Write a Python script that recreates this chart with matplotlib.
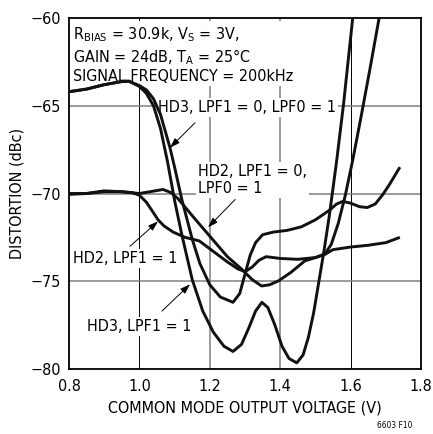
import matplotlib
matplotlib.use("Agg")
import matplotlib.pyplot as plt

plt.rcParams['font.family'] = ['DejaVu Sans Condensed', 'Liberation Sans Narrow', 'DejaVu Sans']
plt.rcParams['font.stretch'] = 'condensed'
plt.rcParams['mathtext.fontset'] = 'custom'
plt.rcParams['mathtext.rm'] = 'DejaVu Sans Condensed'
plt.rcParams['axes.unicode_minus'] = True

# HD3, LPF1 = 1
hd3_lpf1_x = [0.80, 0.85, 0.90, 0.95, 0.97, 1.00, 1.02, 1.04, 1.06, 1.08, 1.10, 1.12, 1.15,
              1.18, 1.21, 1.24, 1.266, 1.29, 1.31, 1.33, 1.348, 1.365, 1.385, 1.405, 1.425,
              1.447, 1.465, 1.48, 1.495, 1.51, 1.525, 1.54, 1.56, 1.58, 1.606]
hd3_lpf1_y = [-64.2, -64.05, -63.8, -63.62, -63.6, -63.9, -64.3, -65.0, -66.3, -68.2, -70.4, -72.3, -74.9,
              -76.7, -77.9, -78.7, -79.0, -78.6, -77.7, -76.7, -76.2, -76.5, -77.5, -78.7, -79.4,
              -79.65, -79.2, -78.2, -76.8, -75.0, -73.2, -71.2, -68.2, -64.9, -60.0]

# HD3, LPF1 = 0, LPF0 = 1
hd3_lpf0_x = [0.80, 0.85, 0.90, 0.95, 0.97, 1.00, 1.02, 1.04, 1.06, 1.087, 1.10, 1.12, 1.15, 1.172,
              1.20, 1.23, 1.266, 1.285, 1.30, 1.315, 1.33, 1.35, 1.38, 1.42, 1.46, 1.50, 1.54,
              1.56, 1.578, 1.60, 1.625, 1.647, 1.67, 1.69, 1.71, 1.74]
hd3_lpf0_y = [-64.2, -64.05, -63.8, -63.62, -63.6, -63.85, -64.1, -64.6, -65.5, -67.4, -68.5, -70.3, -72.6, -74.0,
              -75.2, -75.9, -76.2, -75.7, -74.6, -73.5, -72.8, -72.35, -72.2, -72.1, -71.9, -71.5, -70.95,
              -70.6, -70.45, -70.55, -70.75, -70.8, -70.6, -70.1, -69.5, -68.5]

# HD2, LPF1 = 0, LPF0 = 1
hd2_lpf0_x = [0.80, 0.85, 0.90, 0.95, 1.00, 1.03, 1.067, 1.09, 1.11, 1.135, 1.16, 1.19, 1.22, 1.25,
              1.29, 1.32, 1.347, 1.37, 1.395, 1.43, 1.47, 1.50, 1.527, 1.545, 1.565, 1.585, 1.606,
              1.63, 1.655, 1.681]
hd2_lpf0_y = [-70.05, -70.0, -69.85, -69.9, -70.0, -69.9, -69.77, -69.95, -70.3, -70.9, -71.5, -72.2, -72.9, -73.6,
              -74.3, -74.9, -75.27, -75.2, -74.98, -74.5, -73.84, -73.65, -73.45, -72.9, -71.7, -70.1, -68.1,
              -65.6, -62.9, -60.0]

# HD2, LPF1 = 1
hd2_lpf1_x = [0.80, 0.85, 0.90, 0.95, 0.98, 1.00, 1.02, 1.04, 1.053, 1.07, 1.096, 1.13, 1.17, 1.21,
              1.25, 1.28, 1.30, 1.32, 1.34, 1.36, 1.40, 1.45, 1.50, 1.527, 1.55, 1.60, 1.65, 1.70, 1.74]
hd2_lpf1_y = [-70.0, -70.0, -69.9, -69.9, -69.95, -70.1, -70.5, -71.1, -71.5, -71.85, -72.2, -72.5, -72.7, -73.3,
              -73.9, -74.3, -74.45, -74.2, -73.8, -73.6, -73.7, -73.75, -73.65, -73.47, -73.2, -73.05, -72.95, -72.8, -72.5]

xticks = [0.8, 1.0, 1.2, 1.4, 1.6, 1.8]
xtick_labels = ['0.8', '1.0', '1.2', '1.4', '1.6', '1.8']
yticks = [-80, -75, -70, -65, -60]
ytick_labels = ['\u221280', '\u221275', '\u221270', '\u221265', '\u221260']

fig = plt.figure(figsize=(4.33, 4.34), dpi=100)
ax = fig.add_axes([69 / 433, 1 - 369 / 434, 352 / 433, 351 / 434])
ax.set_xlim(0.8, 1.8)
ax.set_ylim(-80, -60)

# grid: 1.0 and 1.6 thin black, others gray
for xv in [1.2, 1.4]:
    ax.axvline(xv, color='#808080', lw=1.1, zorder=1)
for xv in [1.0, 1.6]:
    ax.axvline(xv, color='black', lw=0.7, zorder=1)
for yv in [-65, -70, -75]:
    ax.axhline(yv, color='#808080', lw=1.1, zorder=1)

for xs, ys in [(hd3_lpf1_x, hd3_lpf1_y), (hd3_lpf0_x, hd3_lpf0_y),
               (hd2_lpf0_x, hd2_lpf0_y), (hd2_lpf1_x, hd2_lpf1_y)]:
    ax.plot(xs, ys, color='#111111', lw=2.1, solid_joinstyle='round',
            solid_capstyle='butt', zorder=4)

fs = 11.5
ax.set_xticks(xticks)
ax.set_xticklabels(xtick_labels)
ax.set_yticks(yticks)
ax.set_yticklabels(ytick_labels)
ax.tick_params(axis='x', length=0, labelsize=fs, pad=7)
ax.tick_params(axis='y', length=0, labelsize=fs, pad=6)
for s in ax.spines.values():
    s.set_linewidth(1.3)

ax.set_xlabel('COMMON MODE OUTPUT VOLTAGE (V)', fontsize=fs, labelpad=5)
ax.set_ylabel('DISTORTION (dBc)', fontsize=fs, labelpad=4)

box = dict(facecolor='white', edgecolor='none', pad=1.5)
ax.text(0.8114, -60.4,
        'R$_{\\mathrm{BIAS}}$ = 30.9k, V$_{\\mathrm{S}}$ = 3V,\n'
        'GAIN = 24dB, T$_{\\mathrm{A}}$ = 25\u00b0C\n'
        'SIGNAL FREQUENCY = 200kHz',
        fontsize=fs, va='top', ha='left', linespacing=1.22, bbox=box, zorder=3)
ax.text(1.0535, -65.1, 'HD3, LPF1 = 0, LPF0 = 1', fontsize=fs, va='center', ha='left',
        bbox=box, zorder=3)
ax.text(1.1665, -69.25, 'HD2, LPF1 = 0,\nLPF0 = 1', fontsize=fs, va='center', ha='left',
        linespacing=1.15, bbox=box, zorder=3)
ax.text(0.8114, -73.7, 'HD2, LPF1 = 1', fontsize=fs, va='center', ha='left',
        bbox=box, zorder=3)
ax.text(0.851, -77.6, 'HD3, LPF1 = 1', fontsize=fs, va='center', ha='left',
        bbox=box, zorder=3)

arrow = dict(arrowstyle='-|>,head_length=0.6,head_width=0.2', color='black', lw=0.7,
             shrinkA=0, shrinkB=0)
ax.annotate('', xy=(1.087, -67.39), xytext=(1.158, -65.97), arrowprops=arrow, zorder=5)
ax.annotate('', xy=(1.195, -71.93), xytext=(1.272, -70.34), arrowprops=arrow, zorder=5)
ax.annotate('', xy=(1.053, -71.59), xytext=(0.973, -73.01), arrowprops=arrow, zorder=5)
ax.annotate('', xy=(1.144, -75.17), xytext=(1.064, -76.70), arrowprops=arrow, zorder=5)

fig.text(395 / 433, 1 - 425 / 434, '6603 F10', fontsize=6, ha='center', va='center')

fig.savefig('out.png', dpi=100)
